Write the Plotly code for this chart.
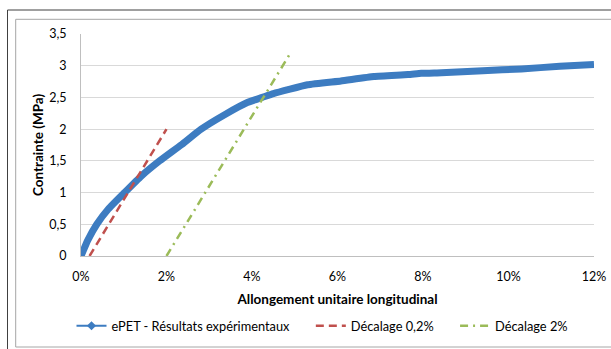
import plotly.graph_objects as go

strain = [0.0, 0.0016, 0.0037, 0.0064, 0.0102, 0.0141, 0.0184, 0.0234, 0.0281,
          0.0339, 0.0389, 0.0424, 0.045, 0.053, 0.0608, 0.0685, 0.0765, 0.0796,
          0.0843, 0.094, 0.103, 0.112, 0.120]
stress = [0.0, 0.25, 0.50, 0.74, 1.00, 1.26, 1.50, 1.75, 2.00,
          2.24, 2.42, 2.50, 2.56, 2.70, 2.76, 2.83, 2.86, 2.88,
          2.89, 2.92, 2.95, 2.99, 3.02]

# Offset lines
off02_x = [0.002, 0.020]
off02_y = [0.0, 2.0]
off2_x = [0.020, 0.049]
off2_y = [0.0, 3.2]

x_ticks = [0, 0.02, 0.04, 0.06, 0.08, 0.10, 0.12]
y_ticks = [0, 0.5, 1, 1.5, 2, 2.5, 3, 3.5]

BLUE = "#3D7CC1"
RED = "#C0504D"
GREEN = "#9BBB59"
FONT = "Lato"
NB = "\u00a0"

fig = go.Figure()
fig.add_trace(go.Scatter(x=strain, y=stress, mode="lines", showlegend=False,
                         line=dict(color=BLUE, width=7, shape="spline", smoothing=0.4),
                         hoverinfo="skip"))
fig.add_trace(go.Scatter(x=[None], y=[None], mode="lines+markers",
                         name="ePET - Résultats expérimentaux" + NB * 5,
                         line=dict(color=BLUE, width=2),
                         marker=dict(symbol="diamond", size=7, color=BLUE)))
fig.add_trace(go.Scatter(x=off02_x, y=off02_y, mode="lines", name="Décalage 0,2%" + NB * 5,
                         line=dict(color=RED, width=2.5, dash="8px,5px")))
fig.add_trace(go.Scatter(x=off2_x, y=off2_y, mode="lines", name="Décalage 2%",
                         line=dict(color=GREEN, width=2.5, dash="8px,5px,2px,5px")))

L, R, T, B = 81, 17, 34, 93
W, H = 611, 349
pw = W - L - R
ph = H - T - B

def px(x):
    return (x - L) / pw

def py(y):
    return (H - B - y) / ph

shapes = [
    dict(type="rect", xref="paper", yref="paper", x0=px(7.5), x1=px(640), y0=py(10), y1=py(380),
         line=dict(color="#404040", width=1), fillcolor="rgba(0,0,0,0)", layer="below"),
    dict(type="rect", xref="paper", yref="paper", x0=px(15.7), x1=px(630), y0=py(19.3), y1=py(347),
         line=dict(color="#A6A6A6", width=1), fillcolor="rgba(0,0,0,0)", layer="below"),
]

fig.update_layout(
    width=W, height=H,
    margin=dict(l=L, r=R, t=T, b=B, autoexpand=False),
    paper_bgcolor="white", plot_bgcolor="white",
    separators=", ",
    font=dict(family=FONT, size=12.5, color="#000000"),
    shapes=shapes,
    xaxis=dict(range=[0, 0.12], tickvals=x_ticks, tickformat=".0%", automargin=False,
               showgrid=False, showline=True, linecolor="#BFBFBF", linewidth=1,
               zeroline=False, ticks="outside", ticklen=9, tickcolor="rgba(0,0,0,0)",
               tickfont=dict(family=FONT, size=12.5),
               title=dict(text="<b>Allongement unitaire longitudinal</b>",
                          font=dict(family=FONT, size=13.5), standoff=11)),
    yaxis=dict(range=[0, 3.5], tickvals=y_ticks, automargin=False,
               showgrid=True, gridcolor="#D9D9D9", gridwidth=1,
               showline=True, linecolor="#BFBFBF", linewidth=1,
               zeroline=False, ticks="outside", ticklen=11, tickcolor="rgba(0,0,0,0)",
               tickfont=dict(family=FONT, size=12.5),
               title=dict(text="<b>Contrainte (MPa)</b>",
                          font=dict(family=FONT, size=13.5), standoff=2)),
    legend=dict(orientation="h", xref="container", x=322.5 / W, xanchor="center",
                yref="container", y=(H - 326) / H, yanchor="middle",
                font=dict(family=FONT, size=12.8), bgcolor="rgba(0,0,0,0)"),
)

fig.write_html("out.html")
